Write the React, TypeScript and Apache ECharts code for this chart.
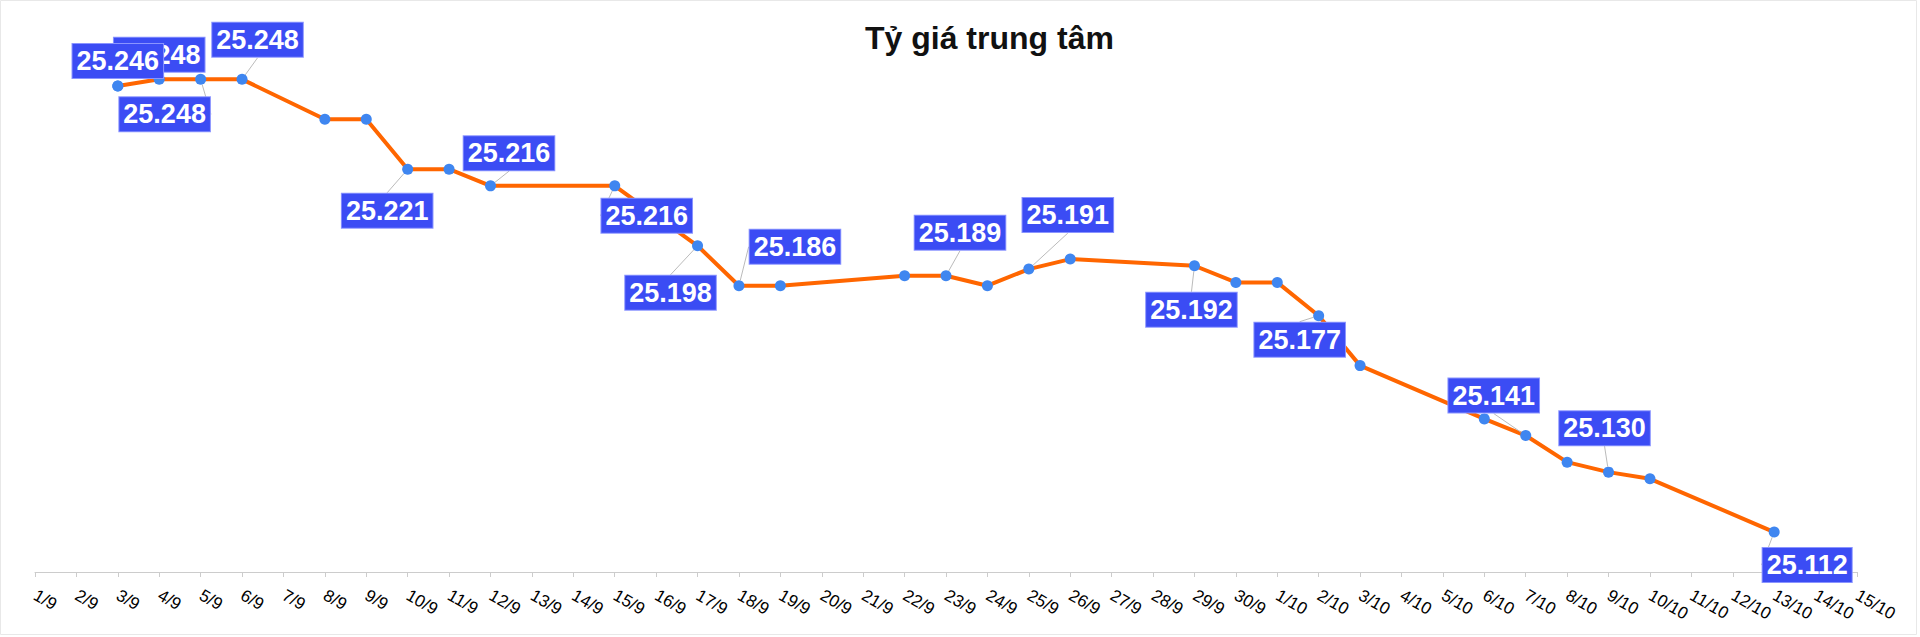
import React, { useEffect, useRef } from "react";
import * as echarts from "echarts";

const titleText = "Tỷ giá trung tâm";

const categories: string[] = [
  "1/9", "2/9", "3/9", "4/9", "5/9", "6/9", "7/9", "8/9", "9/9", "10/9",
  "11/9", "12/9", "13/9", "14/9", "15/9", "16/9", "17/9", "18/9", "19/9", "20/9",
  "21/9", "22/9", "23/9", "24/9", "25/9", "26/9", "27/9", "28/9", "29/9", "30/9",
  "1/10", "2/10", "3/10", "4/10", "5/10", "6/10", "7/10", "8/10", "9/10", "10/10",
  "11/10", "12/10", "13/10", "14/10", "15/10",
];

const rates: (number | null)[] = [
  null, null, 25.246, 25.248, 25.248, 25.248, null, 25.236, 25.236, 25.221,
  25.221, 25.216, null, null, 25.216, null, 25.198, 25.186, 25.186, null,
  null, 25.189, 25.189, 25.186, 25.191, 25.194, null, null, 25.192, 25.187,
  25.187, 25.177, 25.162, null, null, 25.146, 25.141, 25.133, 25.130, 25.128,
  null, null, 25.112, null, null,
];

const yMin = 25.1;
const yMax = 25.26;

// label placement (center offset from the point, px) for labelled points
const labelOffsets: Record<number, [number, number]> = {
  3: [0, -24.5],
  4: [-36, 35],
  5: [15.5, -39.5],
  9: [-20.5, 41.5],
  11: [18.5, -32.7],
  14: [32, 30],
  16: [-27, 47],
  17: [56, -39],
  22: [14, -43],
  24: [39, -54],
  28: [-3, 44],
  31: [-19, 24],
  36: [-32, -40],
  38: [-4, -44],
  42: [33, 33],
};
const topLabelIndex = 2;
const topLabelOffset: [number, number] = [0, -25];

const labelStyle = {
  color: "#ffffff",
  fontFamily: "Liberation Sans, Arial, sans-serif",
  fontWeight: "bold" as const,
  fontSize: 27,
  lineHeight: 28,
  backgroundColor: "#3b4cf4",
  borderColor: "#8a94ff",
  borderWidth: 1,
  padding: [3, 4, 3, 4],
  formatter: (p: any) => Number(p.value).toFixed(3),
};

export default function App() {
  const ref = useRef<HTMLDivElement>(null);
  useEffect(() => {
    if (!ref.current) return;
    const chart = echarts.init(ref.current, null, { renderer: "svg" });
    const mainData = rates.map((v, i) => ({
      value: v === null ? "-" : v,
      label: { show: v !== null && labelOffsets[i] !== undefined },
    }));
    const topData = rates.map((v, i) => (i === topLabelIndex && v !== null ? v : "-"));
    chart.setOption({
      animation: false,
      backgroundColor: "#ffffff",
      title: {
        text: titleText,
        left: 860,
        top: 17,
        textStyle: {
          fontFamily: "Liberation Sans, Arial, sans-serif",
          fontWeight: "bold",
          fontSize: 32,
          color: "#111111",
        },
      },
      graphic: [
        {
          type: "rect",
          shape: { x: 0.5, y: 0.5, width: 1916, height: 634 },
          style: { fill: "none", stroke: "#e8e8e8", lineWidth: 1 },
          silent: true,
        },
      ],
      grid: { left: 35, right: 63, top: 39.4, bottom: 65 },
      xAxis: {
        type: "category",
        data: categories,
        boundaryGap: false,
        axisLine: { lineStyle: { color: "#cccccc", width: 1 } },
        axisTick: { show: true, length: 5, lineStyle: { color: "#cccccc" } },
        axisLabel: {
          interval: 0,
          rotate: -30,
          margin: 22,
          fontSize: 17,
          color: "#000000",
          fontFamily: "Liberation Sans, Arial, sans-serif",
        },
        splitLine: { show: false },
      },
      yAxis: {
        type: "value",
        min: yMin,
        max: yMax,
        show: false,
        splitLine: { show: false },
      },
      series: [
        {
          type: "line",
          data: mainData,
          connectNulls: true,
          showAllSymbol: true,
          symbol: "circle",
          symbolSize: 11,
          itemStyle: { color: "#3f86f0" },
          lineStyle: { color: "#ff6600", width: 4 },
          z: 2,
          label: { ...labelStyle, position: "inside" },
          labelLine: { show: true, lineStyle: { color: "#bbbbbb", width: 1 } },
          labelLayout: (params: any) => {
            const off = labelOffsets[params.dataIndex];
            if (!off) return {};
            return { dx: off[0], dy: off[1] };
          },
        },
        {
          type: "line",
          data: topData,
          symbol: "circle",
          symbolSize: 11,
          itemStyle: { color: "#3f86f0" },
          lineStyle: { width: 0 },
          z: 5,
          label: { ...labelStyle, show: true, position: "inside", offset: topLabelOffset },
        },
      ],
    });
    return () => chart.dispose();
  }, []);
  return (
    <div
      ref={ref}
      style={{ position: "fixed", left: 0, top: 0, width: 1920, height: 637 }}
    />
  );
}
